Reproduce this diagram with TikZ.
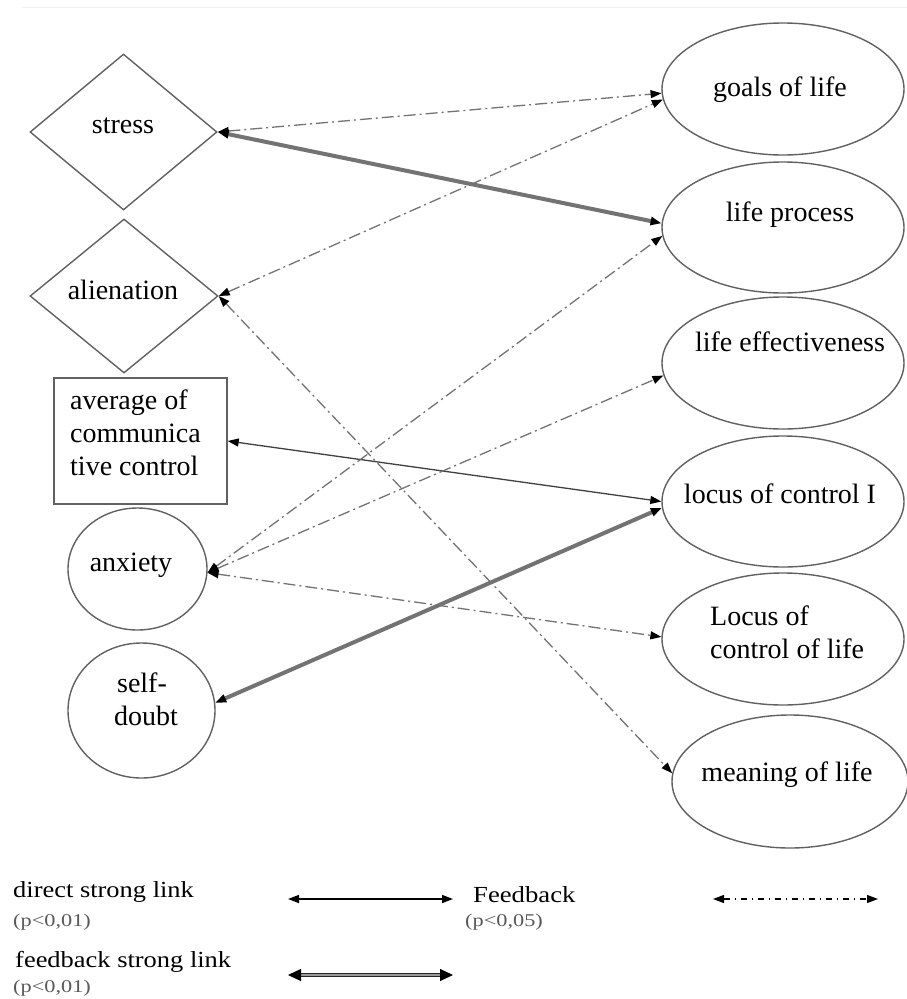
\documentclass[tikz,border=0pt]{standalone}
\usepackage{fontspec}
\setmainfont{Liberation Serif}
\usetikzlibrary{shapes.geometric,arrows.meta}
\begin{document}
\begin{tikzpicture}[x=1pt,y=-1pt,
  shapeline/.style={draw=black!62, line width=1.4pt},
  oval/.style={shapeline, ellipse, inner sep=0pt, minimum width=242pt, minimum height=132pt},
  circ/.style={shapeline, ellipse, inner sep=0pt},
  dia/.style={shapeline, diamond, inner sep=0pt},
  box/.style={shapeline, rectangle, inner sep=0pt, minimum width=173pt, minimum height=126pt},
  lbl/.style={font=\fontsize{28}{34}\selectfont, text height=19pt, text depth=6pt, inner sep=0pt},
  mlbl/.style={font=\fontsize{28}{33}\selectfont, inner sep=0pt},
  leg/.style={font=\fontsize{23}{27}\selectfont, inner sep=0pt, anchor=west},
  legp/.style={font=\fontsize{18}{21}\selectfont, text=black!65, inner sep=0pt, anchor=west},
  both/.style={{Triangle[length=11pt,width=8pt,color=black]}-{Triangle[length=11pt,width=8pt,color=black]}},
  bigboth/.style={{Triangle[length=13pt,width=12pt,color=black]}-{Triangle[length=13pt,width=12pt,color=black]}},
  fb/.style={both, draw=black!55, line width=1.3pt, dash pattern=on 12pt off 4pt on 2pt off 4pt},
  strong/.style={both, draw=black!55, line width=4pt},
  direct/.style={both, draw=black!75, line width=1.3pt},
  legstrong/.style={bigboth, draw=black!85, line width=1.2pt, double=black!40, double distance=2.5pt},
  legdirect/.style={both, draw=black, line width=1.5pt},
  legfb/.style={both, draw=black, line width=1.2pt, dash pattern=on 6pt off 5pt on 1pt off 5pt}
]
\useasboundingbox (0,0) rectangle (907,999);
\fill[white] (0,0) rectangle (907,999);
\coordinate (tl) at (22,7);
\coordinate (tr) at (907,7);
\draw[black!5, line width=1pt] (tl) -- (tr);

% left shapes
\node[dia, minimum width=187pt, minimum height=156pt] (stress) at (123.5,132) {};
\node[dia, minimum width=188pt, minimum height=154pt] (alien) at (124,296) {};
\node[box] (avg) at (140.5,441) {};
\node[circ, minimum width=139pt, minimum height=122pt] (anx) at (137.5,569) {};
\node[circ, minimum width=147pt, minimum height=135pt] (sd) at (141.5,710.5) {};

% right shapes
\node[oval] (goals) at (783,89) {};
\node[oval, minimum height=131pt] (process) at (783,227.5) {};
\node[oval] (eff) at (783,363) {};
\node[oval, minimum height=131pt] (locusI) at (783,501.5) {};
\node[oval] (locusL) at (783,639) {};
\node[oval, minimum width=236pt, minimum height=133pt] (meaning) at (790,781.5) {};

% labels
\node[lbl] (stress-t) at (123,127) {stress};
\node[lbl] (alien-t) at (123,293) {alienation};
\node[mlbl, align=left, anchor=west] (avg-t) at (70,433) {average of\\communica\\tive control};
\node[lbl] (anx-t) at (131,565) {anxiety};
\node[mlbl, align=center] (sd-t) at (142,699) {self-\\\hspace*{8pt}doubt};
\node[lbl] (goals-t) at (780,90) {goals of life};
\node[lbl] (process-t) at (790,215) {life process};
\node[lbl] (eff-t) at (790,345) {life effectiveness};
\node[lbl] (locusI-t) at (780,497) {locus of control I};
\node[mlbl, align=left, anchor=west] (locusL-t) at (710,632) {Locus of\\control of life};
\node[lbl] (meaning-t) at (787,775) {meaning of life};

% connectors
\draw[fb] (stress.east) -- (goals.182.8);
\draw[strong] (stress.east) -- (process.178.8);
\draw[fb] (alien.east) -- (goals.185.2);
\draw[fb] (alien.east) -- (meaning.176.9);
\draw[direct] (avg.east) -- (locusI.180.7);
\draw[fb] (anx.357.5) -- (process.184.5);
\draw[fb] (anx.357.5) -- (eff.186.6);
\draw[fb] (anx.357.5) -- (locusL.179.5);
\draw[strong] (sd.6) -- (locusI.183.1);

% legend
\node[leg] (l1) at (13,892) {\scalebox{1.15}[1]{direct strong link}};
\node[legp] (l1p) at (13,922) {\scalebox{1.24}[1]{(p<0,01)}};
\node[leg] (l2) at (15,962) {\scalebox{1.15}[1]{feedback strong link}};
\node[legp] (l2p) at (13,988) {\scalebox{1.24}[1]{(p<0,01)}};
\node[leg] (l3) at (473,895) {\scalebox{1.16}[1]{Feedback}};
\node[legp] (l3p) at (465,922) {\scalebox{1.24}[1]{(p<0,05)}};
\coordinate (a1) at (288,899);
\coordinate (b1) at (453,899);
\coordinate (a2) at (288,975);
\coordinate (b2) at (453,975);
\coordinate (a3) at (713,899);
\coordinate (b3) at (878,899);
\draw[legdirect] (a1) -- (b1);
\draw[legstrong] (a2) -- (b2);
\draw[legfb] (a3) -- (b3);
\end{tikzpicture}
\end{document}
